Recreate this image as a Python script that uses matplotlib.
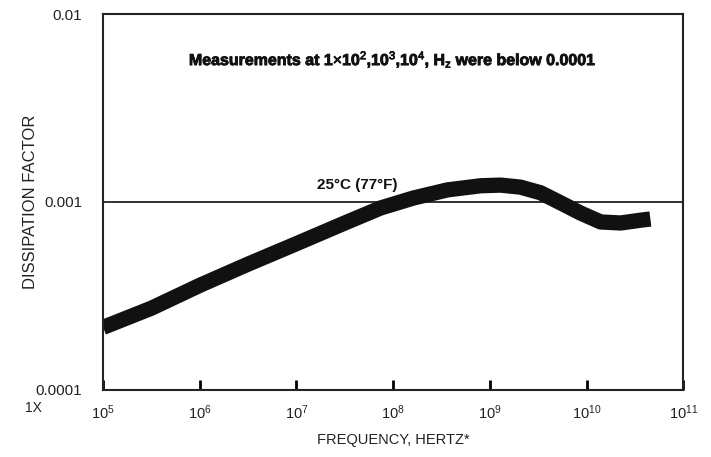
import matplotlib.pyplot as plt
import matplotlib.patheffects as pe

# Dissipation factor vs frequency
freq_hz = [1e5, 3.16e5, 1e6, 3.16e6, 1e7, 3.16e7, 7.4e7, 1.62e8, 3.64e8,
           8.0e8, 1.29e9, 2.07e9, 3.34e9, 5.38e9, 8.67e9, 1.4e10, 2.25e10,
           3.62e10, 4.57e10]
dissipation = [2.15e-4, 2.72e-4, 3.6e-4, 4.67e-4, 6.0e-4, 7.73e-4, 9.29e-4,
               1.05e-3, 1.16e-3, 1.22e-3, 1.23e-3, 1.2e-3, 1.12e-3, 9.9e-4,
               8.73e-4, 7.83e-4, 7.73e-4, 8.0e-4, 8.12e-4]
ref_level = 1e-3

x_ticks = [1e5, 1e6, 1e7, 1e8, 1e9, 1e10, 1e11]
x_labels = ["$10^{5}$", "$10^{6}$", "$10^{7}$", "$10^{8}$", "$10^{9}$",
            "$10^{10}$", "$10^{11}$"]
y_ticks = [1e-4, 1e-3, 1e-2]
y_labels = ["0.0001", "0.001", "0.01"]

plt.rcParams['font.family'] = ['Liberation Sans', 'DejaVu Sans']
plt.rcParams['mathtext.fontset'] = 'custom'
plt.rcParams['mathtext.rm'] = 'Liberation Sans'
plt.rcParams['mathtext.it'] = 'Liberation Sans'
plt.rcParams['mathtext.bf'] = 'Liberation Sans:bold'

fig = plt.figure(figsize=(7.11, 4.57), dpi=100)
ax = fig.add_axes([0.145, 0.147, 0.816, 0.822])

ax.set_xscale('log')
ax.set_yscale('log')
ax.set_xlim(1e5, 1e11)
ax.set_ylim(1e-4, 1e-2)

ax.axhline(ref_level, color='#222222', lw=1.3)
ax.plot(freq_hz, dissipation, color='#111111', lw=11,
        solid_capstyle='butt', solid_joinstyle='round')

ax.set_xticks(x_ticks)
ax.set_xticklabels(x_labels, fontsize=10.5, color='#222222')
ax.set_yticks(y_ticks)
ax.set_yticklabels(y_labels, fontsize=11, color='#222222')
ax.minorticks_off()
ax.tick_params(axis='x', direction='in', length=7.5, width=2, pad=10)
ax.tick_params(axis='y', length=0, pad=15)
for sp in ax.spines.values():
    sp.set_linewidth(1.5)
    sp.set_color('#222222')

ax.set_ylabel("DISSIPATION FACTOR", fontsize=12, color='#222222')
ax.yaxis.set_label_coords(-0.112, 0.5)
ax.set_xlabel("FREQUENCY, HERTZ*", fontsize=10.5, color='#222222', labelpad=8)

heavy = [pe.withStroke(linewidth=0.6, foreground='#111111')]
ax.text(0.5, 0.88,
        r"Measurements at 1$\times$10$^{2}$,10$^{3}$,10$^{4}$, H$_{z}$ were below 0.0001",
        transform=ax.transAxes, ha='center', va='center', fontsize=11.5,
        fontweight='bold', color='#111111', path_effects=heavy)
ax.text(1.64e7, 1.13e-3, "25°C (77°F)", ha='left', va='bottom', fontsize=11,
        fontweight='bold', color='#111111')

fig.text(25 / 711, 1 - 408 / 457, "1X", fontsize=10, color='#222222',
         ha='left', va='center')

plt.savefig("out.png", dpi=100)
